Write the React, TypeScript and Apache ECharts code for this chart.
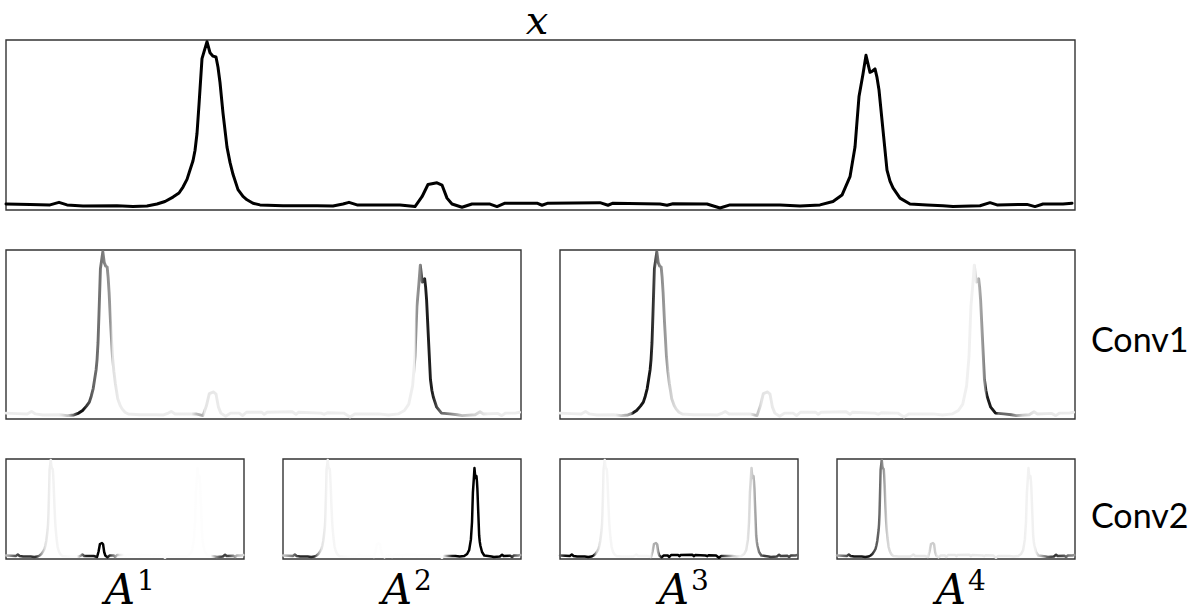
import React, { useEffect, useRef } from "react";
import * as echarts from "echarts";

// ---- signal x (sample position, amplitude) ----
const sampleT: number[] = [
  0, 24, 44, 53, 61, 77, 111, 127, 141, 151, 159, 167, 173, 177, 181, 184, 187, 189, 191, 193,
  196, 201, 204, 207, 210, 212, 214, 217, 221, 224, 227, 232, 237, 241, 247, 254, 277, 311, 327, 337,
  343, 351, 394, 409, 416, 422, 431, 436, 441, 446, 456, 466, 484, 491, 499, 531, 536, 542, 594, 602,
  607, 654, 661, 667, 701, 714, 724, 774, 794, 814, 827, 836, 844, 849, 851, 853, 857, 860, 864, 866,
  869, 871, 873, 877, 881, 884, 887, 894, 904, 921, 937, 947, 974, 984, 991, 1021, 1029, 1037, 1057, 1066,
];
const sampleX: number[] = [
  0.035, 0.032, 0.03, 0.045, 0.03, 0.024, 0.025, 0.02, 0.024, 0.035, 0.05, 0.076, 0.1, 0.135, 0.18, 0.235, 0.29, 0.35, 0.45, 0.62,
  0.89, 0.99, 0.925, 0.905, 0.9, 0.84, 0.75, 0.57, 0.37, 0.28, 0.21, 0.12, 0.08, 0.06, 0.04, 0.03, 0.025, 0.025, 0.024, 0.035,
  0.045, 0.03, 0.03, 0.02, 0.078, 0.15, 0.16, 0.147, 0.07, 0.035, 0.016, 0.035, 0.035, 0.02, 0.04, 0.04, 0.028, 0.04, 0.043, 0.028,
  0.04, 0.035, 0.028, 0.037, 0.035, 0.012, 0.03, 0.03, 0.024, 0.03, 0.05, 0.088, 0.196, 0.37, 0.52, 0.667, 0.8, 0.91, 0.81, 0.815,
  0.83, 0.78, 0.706, 0.47, 0.235, 0.17, 0.13, 0.07, 0.035, 0.03, 0.025, 0.02, 0.025, 0.043, 0.03, 0.033, 0.02, 0.035, 0.035, 0.04,
];

// ---- activation shading along the signal: [sample position, gray level 0=black 255=white] ----
const conv1Map1: number[][] = [
  [0, 236], [110, 236], [130, 190], [142, 90], [150, 20], [160, 15], [168, 60], [180, 100], [200, 120], [208, 140],
  [218, 153], [220, 222], [235, 236], [385, 236], [395, 190], [407, 170], [412, 228], [450, 236], [849, 238], [851, 150],
  [860, 136], [866, 60], [870, 30], [885, 30], [892, 60], [902, 100], [923, 136], [944, 187], [986, 221], [1000, 236], [1066, 236],
];
const conv1Map2: number[][] = [
  [0, 236], [115, 236], [135, 180], [147, 150], [152, 25], [186, 20], [195, 60], [200, 100], [207, 136], [222, 160],
  [226, 200], [243, 224], [260, 236], [395, 236], [405, 190], [412, 200], [418, 226], [450, 236], [855, 240], [862, 240],
  [869, 175], [878, 150], [883, 120], [886, 30], [905, 20], [910, 100], [935, 110], [960, 200], [985, 230], [1066, 236],
];
const conv2MapA1: number[][] = [
  [0, 187], [38, 90], [70, 51], [135, 51], [159, 160], [175, 225], [200, 240], [300, 252], [319, 252], [340, 120], [359, 34],
  [407, 17], [412, 0], [447, 0], [463, 40], [484, 130], [511, 230], [530, 253], [920, 253], [944, 140], [968, 60],
  [1000, 70], [1032, 170], [1066, 215],
];
const conv2MapA2: number[][] = [
  [0, 200], [43, 120], [75, 40], [140, 40], [156, 150], [172, 225], [196, 242], [300, 253], [718, 253], [743, 110], [759, 30],
  [775, 0], [1008, 0], [1032, 60], [1056, 130], [1066, 170],
];
const conv2MapA3: number[][] = [
  [0, 100], [23, 17], [47, 0], [148, 0], [163, 190], [179, 232], [202, 245], [405, 245], [418, 175], [440, 170],
  [452, 40], [460, 0], [715, 0], [738, 80], [777, 200], [808, 242], [839, 228], [862, 208], [878, 165], [894, 120],
  [917, 60], [1041, 70], [1066, 100],
];
const conv2MapA4: number[][] = [
  [0, 170], [39, 90], [70, 20], [147, 20], [170, 80], [194, 110], [201, 130], [212, 160], [225, 210], [256, 230],
  [410, 230], [418, 205], [441, 205], [449, 230], [829, 236], [852, 242], [891, 240], [914, 180], [945, 100], [976, 50],
  [1015, 80], [1066, 150],
];

const layerLabels = ["Conv1", "Conv2"];
const mapLabels = ["1", "2", "3", "4"];

const T_MAX = 1069;

function shade(stops: number[][]) {
  const t0 = sampleT[0];
  const t1 = sampleT[sampleT.length - 1];
  return new echarts.graphic.LinearGradient(
    0, 0, 1, 0,
    stops.map(([t, g]) => ({
      offset: Math.min(1, Math.max(0, (t - t0) / (t1 - t0))),
      color: `rgb(${g},${g},${g})`,
    }))
  );
}

// layout of panels (px)
const panels = [
  { left: 6, top: 40, width: 1069, height: 170, color: "#000" as any, lw: 3 },
  { left: 6, top: 250, width: 515, height: 169, color: shade(conv1Map1), lw: 2.9 },
  { left: 560, top: 250, width: 515, height: 169, color: shade(conv1Map2), lw: 2.9 },
  { left: 6, top: 459, width: 238, height: 100, color: shade(conv2MapA1), lw: 2.5 },
  { left: 283, top: 459, width: 238, height: 100, color: shade(conv2MapA2), lw: 2.5 },
  { left: 560, top: 459, width: 238, height: 100, color: shade(conv2MapA3), lw: 2.5 },
  { left: 837, top: 459, width: 238, height: 100, color: shade(conv2MapA4), lw: 2.5 },
];

export default function App() {
  const ref = useRef<HTMLDivElement>(null);
  useEffect(() => {
    if (!ref.current) return;
    const chart = echarts.init(ref.current, null, { renderer: "svg" });
    const data = sampleT.map((t, i) => [t, sampleX[i]]);
    const serif = '"DejaVu Serif", "Liberation Serif", serif';
    const txt = (text: string, x: number, y: number, font: string, align: string, vAlign: string) => ({
      type: "text", x, y,
      style: {
        text, font, fill: "#000", align, verticalAlign: vAlign, textAlign: align, textVerticalAlign: vAlign,
      },
    });
    const graphic: any[] = [
      txt("x", 537, 0, `italic 40px ${serif}`, "center", "top"),
      txt(layerLabels[0], 1091, 338, "34px Lato, sans-serif", "left", "middle"),
      txt(layerLabels[1], 1091, 514, "34px Lato, sans-serif", "left", "middle"),
    ];
    panels.slice(3).forEach((p, i) => {
      const cx = p.left + p.width / 2 - 5;
      graphic.push(txt("A", cx, 610, `italic 42px ${serif}`, "center", "bottom"));
      graphic.push(txt(mapLabels[i], cx + 17, 580, `28px ${serif}`, "left", "middle"));
    });

    chart.setOption({
      animation: false,
      backgroundColor: "#fff",
      grid: panels.map((p) => ({
        left: p.left, top: p.top, width: p.width, height: p.height,
        show: true, borderColor: "#333", borderWidth: 1.4, backgroundColor: "transparent",
      })),
      xAxis: panels.map((_, i) => ({
        type: "value", gridIndex: i, min: 0, max: T_MAX, show: false,
      })),
      yAxis: panels.map((_, i) => ({
        type: "value", gridIndex: i, min: 0, max: 1, show: false,
      })),
      series: panels.map((p, i) => ({
        type: "line", xAxisIndex: i, yAxisIndex: i, data, symbol: "none", smooth: false,
        lineStyle: { width: p.lw, color: p.color, join: "round", cap: "round" },
        silent: true,
      })),
      graphic,
    });
    return () => chart.dispose();
  }, []);
  return (
    <div
      ref={ref}
      style={{ position: "absolute", left: 0, top: 0, width: 1200, height: 610, background: "#fff" }}
    />
  );
}
